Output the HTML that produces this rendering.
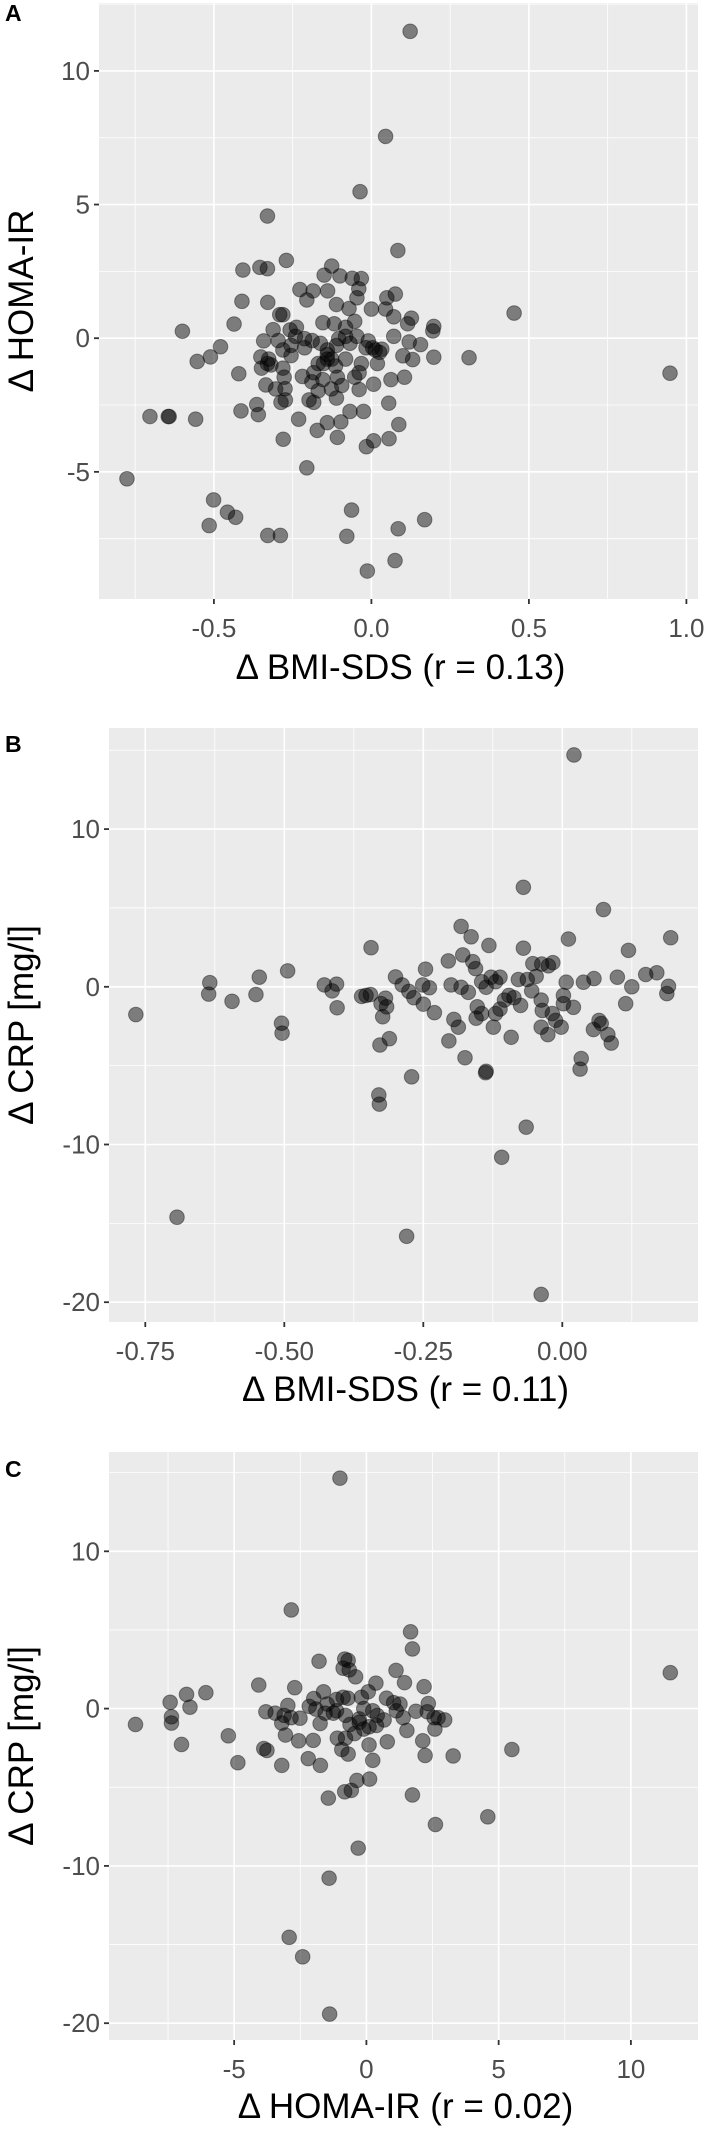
<!DOCTYPE html>
<html><head><meta charset="utf-8"><style>
html,body{margin:0;padding:0;background:#fff;}
svg{display:block;font-family:"Liberation Sans",Arial,sans-serif;}
</style></head><body>
<svg id="fig" width="709" height="2145" viewBox="0 0 709 2145" xmlns="http://www.w3.org/2000/svg"></svg>
<script>
// Panel A data (ΔBMI-SDS vs ΔHOMA-IR), read in zoom px then converted
const aPx=[[902,69],[848,300],[792,422],[588,475],[875,551],[630,573],[534,594],[572,588],[588,591],[730,585],[713,605],[748,607],[795,613],[775,612],[660,637],[721,640],[789,635],[870,647],[851,655],[532,663],[589,665],[675,660],[689,640],[740,670],[768,679],[785,655],[817,680],[848,680],[866,697],[905,700],[897,712],[1131,689],[622,692],[615,692],[401,729],[515,713],[601,725],[638,726],[652,720],[710,710],[735,712],[760,720],[780,707],[954,718],[952,728],[866,740],[485,763],[463,785],[434,795],[574,785],[591,790],[596,803],[622,770],[640,760],[670,765],[687,749],[705,755],[720,770],[740,760],[770,755],[805,765],[825,770],[840,768],[900,752],[925,758],[1032,787],[954,786],[908,791],[886,783],[1474,821],[525,822],[588,800],[622,810],[625,830],[665,828],[690,820],[700,800],[730,790],[738,805],[760,790],[795,800],[830,800],[860,835],[890,830],[585,847],[606,856],[627,855],[686,840],[710,835],[729,856],[752,848],[790,857],[822,845],[855,887],[330,916],[370,916],[372,916],[430,922],[530,904],[565,890],[568,912],[618,885],[628,880],[657,922],[690,885],[698,947],[720,930],[742,962],[750,928],[770,905],[800,905],[822,970],[806,983],[856,965],[877,934],[623,966],[675,1029],[279,1053],[470,1100],[500,1127],[518,1138],[460,1156],[589,1178],[617,1178],[773,1122],[763,1180],[934,1143],[876,1163],[869,1233],[808,1256],[640,782],[720,780],[745,745],[760,740],[785,740],[650,740],[670,745],[810,750],[720,790],[712,800],[780,830],[790,820],[700,860],[740,876],[680,880],[820,765],[835,775],[612,749],[580,750],[575,810],[742,830]];
const aX=aPx.map(p=>+((p[0]-817)/693).toFixed(3));
const aY=aPx.map(p=>+((744-p[1])/58.8).toFixed(2));
// Panel B data (ΔBMI-SDS vs ΔCRP)
const bPx=[[1263,121],[1151,412],[1328,461],[1015,498],[1036,521],[1075,540],[1151,546],[1250,526],[1476,523],[1382,551],[816,545],[986,574],[1018,561],[1040,576],[1046,591],[936,592],[1172,580],[1192,581],[1216,578],[1207,585],[633,596],[571,610],[462,622],[459,647],[563,648],[511,663],[299,692],[713,627],[740,625],[731,640],[742,677],[619,711],[621,733],[795,652],[805,650],[815,648],[870,609],[885,627],[900,641],[910,655],[930,627],[945,633],[931,669],[956,688],[848,656],[838,668],[850,675],[842,697],[857,745],[836,759],[988,750],[999,703],[1008,720],[1023,787],[992,627],[1015,632],[1030,643],[1060,620],[1070,632],[1080,610],[1090,620],[1100,610],[1050,675],[1048,700],[1060,690],[1085,720],[1090,690],[1100,680],[1110,660],[1120,650],[1130,655],[1140,615],[1145,672],[1160,615],[1170,640],[1180,608],[1190,660],[1193,683],[1190,720],[1205,736],[1215,690],[1222,705],[1234,720],[1240,650],[1246,621],[1240,668],[1262,676],[1284,621],[1307,613],[1305,725],[1318,705],[1323,712],[1337,736],[1345,755],[1358,610],[1390,631],[1377,668],[1420,604],[1445,600],[1470,630],[1467,646],[1279,789],[1276,812],[1070,817],[1068,820],[905,829],[833,869],[835,889],[1158,940],[1104,1006],[389,1138],[894,1180],[1190,1308],[1125,742]];
const bX=bPx.map(p=>+((p[0]-1237)/1223).toFixed(3));
const bY=bPx.map(p=>+((631-p[1])/34.7).toFixed(2));
// Panel C data (ΔHOMA-IR vs ΔCRP)
const cPx=[[748,128],[641,418],[903,466],[907,504],[702,531],[758,526],[766,529],[755,546],[768,550],[782,565],[871,551],[890,578],[933,587],[827,579],[569,583],[648,589],[453,600],[410,604],[374,621],[418,632],[377,653],[377,667],[298,670],[399,714],[502,695],[523,754],[580,723],[587,727],[620,760],[678,745],[705,760],[689,705],[657,706],[628,693],[620,667],[585,642],[605,645],[625,650],[633,628],[640,655],[660,656],[680,630],[690,613],[695,636],[704,668],[712,598],[720,625],[733,645],[740,615],[755,610],[765,612],[742,700],[752,725],[766,735],[760,700],[780,690],[770,670],[790,658],[795,610],[810,598],[800,635],[820,640],[830,650],[812,675],[828,672],[845,660],[850,612],[866,622],[880,625],[887,655],[895,683],[915,641],[930,706],[940,642],[942,624],[955,655],[957,680],[935,738],[964,655],[978,660],[997,739],[1126,725],[1073,873],[958,890],[907,825],[852,708],[812,715],[820,749],[813,790],[785,793],[773,815],[758,818],[722,832],[788,942],[724,1008],[636,1138],[666,1181],[725,1307],[1475,556],[872,640],[790,665],[800,680],[760,650],[740,640],[715,645]];
const cX=cPx.map(p=>+((p[0]-806)/58.2).toFixed(2));
const cY=cPx.map(p=>+((635-p[1])/34.6).toFixed(2));

const aXTicks=[-0.5,0,0.5,1], aXLabels=["-0.5","0.0","0.5","1.0"], aXMinor=[-0.75,-0.25,0.25,0.75];
const aYTicks=[-5,0,5,10], aYLabels=["-5","0","5","10"], aYMinor=[-7.5,-2.5,2.5,7.5,12.5];
const bXTicks=[-0.75,-0.5,-0.25,0], bXLabels=["-0.75","-0.50","-0.25","0.00"], bXMinor=[-0.625,-0.375,-0.125,0.125];
const bYTicks=[-20,-10,0,10], bYLabels=["-20","-10","0","10"], bYMinor=[-15,-5,5,15];
const cXTicks=[-5,0,5,10], cXLabels=["-5","0","5","10"], cXMinor=[-7.5,-2.5,2.5,7.5];
const cYTicks=bYTicks, cYLabels=bYLabels, cYMinor=bYMinor;

const NS="http://www.w3.org/2000/svg";
const svg=document.getElementById('fig');
function mk(tag,attrs,parent){const e=document.createElementNS(NS,tag);for(const k in attrs)e.setAttribute(k,attrs[k]);(parent||svg).appendChild(e);return e;}

function panel(o){
  const g=mk('g',{});
  
  
  const sx=v=>o.x0px+(v-o.x0v)*o.xs;
  const sy=v=>o.y0px-(v-o.y0v)*o.ys;
  const bg=mk('rect',{x:o.L,y:o.T,width:o.R-o.L,height:o.B-o.T,fill:'#ebebeb'},g);
  
  
  o.xMinor.forEach(v=>{const x=sx(v);if(x>o.L&&x<o.R){const l=mk('line',{x1:x,x2:x,y1:o.T,y2:o.B,stroke:'#fff','stroke-width':0.8},g);}});
  o.yMinor.forEach(v=>{const y=sy(v);if(y>o.T&&y<o.B){const l=mk('line',{x1:o.L,x2:o.R,y1:y,y2:y,stroke:'#fff','stroke-width':0.8},g);}});
  o.xTicks.forEach((v,i)=>{const x=sx(v);
    const l=mk('line',{x1:x,x2:x,y1:o.T,y2:o.B,stroke:'#fff','stroke-width':1.6},g);
    const t=mk('line',{x1:x,x2:x,y1:o.B,y2:o.B+5,stroke:'#333','stroke-width':1.8},g);
    const tx=mk('text',{x:x,y:o.B+38,'text-anchor':'middle','font-size':26,fill:'#4d4d4d'},g);tx.textContent=o.xLabels[i];});
  o.yTicks.forEach((v,i)=>{const y=sy(v);
    const l=mk('line',{x1:o.L,x2:o.R,y1:y,y2:y,stroke:'#fff','stroke-width':1.6},g);
    const t=mk('line',{x1:o.L-5,x2:o.L,y1:y,y2:y,stroke:'#333','stroke-width':1.8},g);
    const tx=mk('text',{x:o.L-9,y:y+9,'text-anchor':'end','font-size':26,fill:'#4d4d4d'},g);tx.textContent=o.yLabels[i];});
  o.xs_data.forEach((v,i)=>{
    const c=mk('circle',{cx:sx(v),cy:sy(o.ys_data[i]),r:7.3,fill:'rgba(0,0,0,0.47)',stroke:'rgba(0,0,0,0.4)','stroke-width':1},g);
    
    
  });
  const xt=mk('text',{x:(o.L+o.R)/2+2,y:o.xTitleY,'text-anchor':'middle','font-size':35,fill:'#000'},g);
  xt.textContent=o.xTitle;
  const yc=(o.T+o.B)/2;
  const yt=mk('text',{x:0,y:0,'text-anchor':'middle','font-size':35,fill:'#000',transform:`translate(33,${yc}) rotate(-90)`},g);
  yt.textContent=o.yTitle;
  const lb=mk('text',{x:5,y:o.labelY,'font-size':23,'font-weight':'bold',fill:'#000'},g);
  lb.textContent=o.id;
}

panel({id:'A',L:99,R:698,T:3,B:599,x0v:0,x0px:371.4,xs:315,y0v:0,y0px:338.2,ys:26.73,
  xTicks:aXTicks,xLabels:aXLabels,xMinor:aXMinor,yTicks:aYTicks,yLabels:aYLabels,yMinor:aYMinor,
  xs_data:aX,ys_data:aY,xTitle:'Δ BMI-SDS (r = 0.13)',yTitle:'Δ HOMA-IR',xTitleY:679,labelY:21});
panel({id:'B',L:109,R:698,T:728,B:1322,x0v:0,x0px:562.3,xs:556,y0v:0,y0px:986.8,ys:15.77,
  xTicks:bXTicks,xLabels:bXLabels,xMinor:bXMinor,yTicks:bYTicks,yLabels:bYLabels,yMinor:bYMinor,
  xs_data:bX,ys_data:bY,xTitle:'Δ BMI-SDS (r = 0.11)',yTitle:'Δ CRP [mg/l]',xTitleY:1401,labelY:752});
panel({id:'C',L:109,R:698,T:1452,B:2040,x0v:0,x0px:366.4,xs:26.45,y0v:0,y0px:1708.6,ys:15.73,
  xTicks:cXTicks,xLabels:cXLabels,xMinor:cXMinor,yTicks:cYTicks,yLabels:cYLabels,yMinor:cYMinor,
  xs_data:cX,ys_data:cY,xTitle:'Δ HOMA-IR (r = 0.02)',yTitle:'Δ CRP [mg/l]',xTitleY:2118,labelY:1477});
</script>
</body></html>
